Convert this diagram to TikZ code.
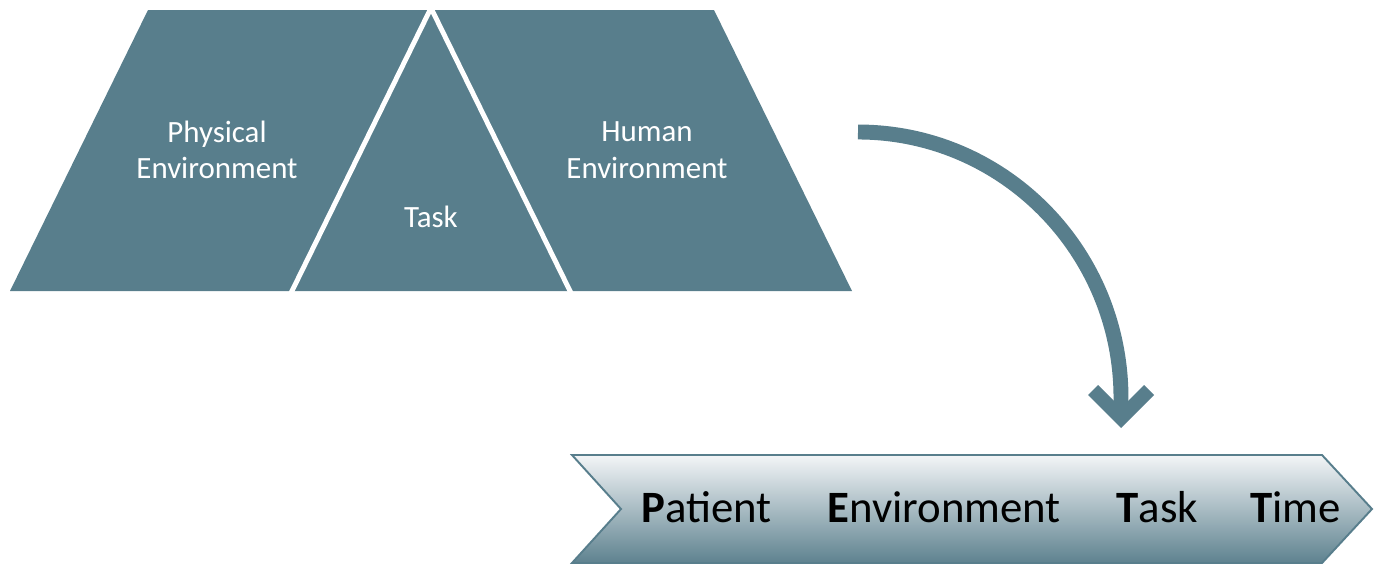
\documentclass[tikz,border=0pt]{standalone}
\usepackage{fontspec}
\setmainfont{Carlito}
\definecolor{slateteal}{HTML}{587E8C}
\definecolor{chevtop}{HTML}{F3F5F7}
\definecolor{chevbot}{HTML}{5E828F}
\tikzset{
  block/.style={fill=slateteal},
  divider/.style={draw=white,line width=2.8pt,line join=miter},
  toplabel/.style={text=white,align=center,font=\fontsize{17.6}{20.8}\selectfont,inner sep=0pt},
  chevword/.style={anchor=base west,text=black,font=\fontsize{25.5}{30}\selectfont,inner sep=0pt},
  curvearrow/.style={draw=slateteal,line width=8.5pt,line cap=butt}
}
\begin{document}
\begin{tikzpicture}[x=0.02cm,y=-0.02cm]
\useasboundingbox (0,0) rectangle (1374,565);
% trapezoid split into three parts
\fill[block] (148,10) -- (714,10) -- (852,291) -- (10,291) -- cycle;
\draw[divider] (291,293) -- (431,8) -- (571,293);
\node[toplabel] (phys) at (217,150) {Physical\\Environment};
\node[toplabel] (human) at (647,150) {Human\\Environment};
\node[toplabel,anchor=base] (task) at (431,227) {Task};
% chevron
\path[draw=slateteal,line width=1.1pt,top color=chevtop,bottom color=chevbot]
  (572,455) -- (1322,455) -- (1372,509) -- (1322,563) -- (572,563) -- (621,509) -- cycle;
\node[chevword] (w1) at (641,522) {\textbf{P}atient};
\node[chevword] (w2) at (827,522) {\textbf{E}nvironment};
\node[chevword] (w3) at (1116,522) {\textbf{T}ask};
\node[chevword] (w4) at (1250,522) {\textbf{T}ime};
% curved arrow
\coordinate (astart) at (858,132);
\coordinate (aend) at (1121,408);
\draw[curvearrow] (astart) arc[start angle=-90,end angle=0,x radius=263,y radius=266] -- (aend);
\fill[slateteal] (1121,428) -- (1088,395) -- (1098,385) -- (aend) -- (1144,385) -- (1154,395) -- cycle;
\end{tikzpicture}
\end{document}
